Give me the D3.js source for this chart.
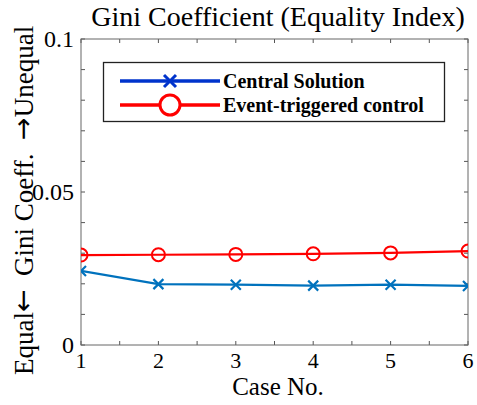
<!DOCTYPE html>
<html>
<head>
<meta charset="utf-8">
<script src="https://cdn.jsdelivr.net/npm/d3@7"></script>
<style>
  body { margin: 0; background: #fff; }
  text { font-family: "Liberation Serif", "Times New Roman", serif; }
</style>
</head>
<body>
<div id="chart"></div>
<script>
var cases = [1, 2, 3, 4, 5, 6];
var centralSolution = [0.0242, 0.0199, 0.0197, 0.0194, 0.0197, 0.0193];
var eventTriggered = [0.0294, 0.0295, 0.0296, 0.0298, 0.0301, 0.0307];
var yTickLabels = [0, 0.05, 0.1];

var width = 477, height = 405;
var margin = { top: 39, right: 9, bottom: 60, left: 81 };
var iw = width - margin.left - margin.right;
var ih = height - margin.top - margin.bottom;

var svg = d3.select("#chart").append("svg")
    .attr("width", width)
    .attr("height", height);

var x = d3.scaleLinear().domain([1, 6]).range([0, iw]);
var y = d3.scaleLinear().domain([0, 0.1]).range([ih, 0]);

var g = svg.append("g").attr("transform", "translate(" + margin.left + "," + margin.top + ")");

// ticks inside on all four sides
var xMinor = d3.range(1, 6.01, 0.5);
var yMinor = d3.range(0, 0.1001, 0.01);
var tickLen = 4;
var tickCol = "#555";
xMinor.forEach(function (v) {
    g.append("line").attr("x1", x(v)).attr("x2", x(v)).attr("y1", ih).attr("y2", ih - tickLen).attr("stroke", tickCol);
    g.append("line").attr("x1", x(v)).attr("x2", x(v)).attr("y1", 0).attr("y2", tickLen).attr("stroke", tickCol);
});
yMinor.forEach(function (v) {
    g.append("line").attr("x1", 0).attr("x2", tickLen).attr("y1", y(v)).attr("y2", y(v)).attr("stroke", tickCol);
    g.append("line").attr("x1", iw).attr("x2", iw - tickLen).attr("y1", y(v)).attr("y2", y(v)).attr("stroke", tickCol);
});
g.append("rect").attr("width", iw).attr("height", ih)
    .attr("fill", "none").attr("stroke", "#666").attr("stroke-width", 1);

// tick labels
g.selectAll(".xl").data(cases).enter().append("text")
    .attr("x", function (d) { return x(d); })
    .attr("y", ih + 23)
    .attr("text-anchor", "middle")
    .attr("font-size", 22)
    .text(function (d) { return d; });
g.selectAll(".yl").data(yTickLabels).enter().append("text")
    .attr("x", -7)
    .attr("y", function (d) { return y(d) + 8; })
    .attr("text-anchor", "end")
    .attr("font-size", 24)
    .text(function (d) { return d; });

// axis titles
svg.append("text")
    .attr("x", 278).attr("y", 26)
    .attr("text-anchor", "middle")
    .attr("font-size", 28)
    .text("Gini Coefficient (Equality Index)");
svg.append("text")
    .attr("x", 278).attr("y", 395)
    .attr("text-anchor", "middle")
    .attr("font-size", 25)
    .text("Case No.");

var yLab = svg.append("text")
    .attr("transform", "translate(33,375) rotate(-90)")
    .attr("text-anchor", "start")
    .attr("font-size", 27)
    .attr("xml:space", "preserve");
yLab.append("tspan").text("Equal");
yLab.append("tspan").attr("font-family", "DejaVu Sans").attr("dy", -1).text("\u2190");
yLab.append("tspan").attr("dy", 1).text("  Gini Coeff.  ");
yLab.append("tspan").attr("font-family", "DejaVu Sans").attr("dy", -1).text("\u2192");
yLab.append("tspan").attr("dy", 1).text("Unequal");

// clip
svg.append("defs").append("clipPath").attr("id", "clip")
    .append("rect").attr("width", iw).attr("height", ih);
var plot = g.append("g").attr("clip-path", "url(#clip)");

var line = d3.line().x(function (d, i) { return x(cases[i]); }).y(function (d) { return y(d); });

var blue = "#0072bd", red = "#ff0000";
plot.append("path").datum(centralSolution).attr("d", line)
    .attr("fill", "none").attr("stroke", blue).attr("stroke-width", 2.2);
plot.append("path").datum(eventTriggered).attr("d", line)
    .attr("fill", "none").attr("stroke", red).attr("stroke-width", 2.2);

var xs = 5;
centralSolution.forEach(function (v, i) {
    var cx = x(cases[i]), cy = y(v);
    plot.append("path")
        .attr("d", "M" + (cx - xs) + "," + (cy - xs) + "L" + (cx + xs) + "," + (cy + xs) +
            "M" + (cx - xs) + "," + (cy + xs) + "L" + (cx + xs) + "," + (cy - xs))
        .attr("stroke", blue).attr("stroke-width", 2.2);
});
plot.selectAll(".circ").data(eventTriggered).enter().append("circle")
    .attr("cx", function (d, i) { return x(cases[i]); })
    .attr("cy", function (d) { return y(d); })
    .attr("r", 6.5)
    .attr("fill", "none").attr("stroke", red).attr("stroke-width", 2);

// legend
var lg = svg.append("g");
lg.append("rect").attr("x", 103.5).attr("y", 62.5).attr("width", 341).attr("height", 59)
    .attr("fill", "#fff").attr("stroke", "#222").attr("stroke-width", 1.3);
var legendItems = [
    { name: "Central Solution", color: "#0033cc", marker: "x", y: 81 },
    { name: "Event-triggered control", color: red, marker: "o", y: 105 }
];
legendItems.forEach(function (d) {
    lg.append("line").attr("x1", 120).attr("x2", 220).attr("y1", d.y).attr("y2", d.y)
        .attr("stroke", d.color).attr("stroke-width", 3.5);
    if (d.marker === "x") {
        var s = 6;
        lg.append("path")
            .attr("d", "M" + (170 - s) + "," + (d.y - s) + "L" + (170 + s) + "," + (d.y + s) +
                "M" + (170 - s) + "," + (d.y + s) + "L" + (170 + s) + "," + (d.y - s))
            .attr("stroke", d.color).attr("stroke-width", 3);
    } else {
        lg.append("circle").attr("cx", 170).attr("cy", d.y).attr("r", 10)
            .attr("fill", "#fff").attr("stroke", d.color).attr("stroke-width", 3);
    }
    lg.append("text").attr("x", 223).attr("y", d.y + 7)
        .attr("font-size", 20).attr("font-weight", "bold")
        .text(d.name);
});
</script>
</body>
</html>
